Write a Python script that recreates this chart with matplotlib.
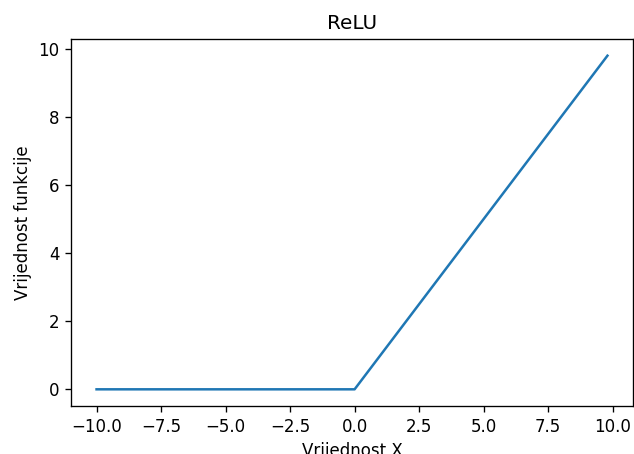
import matplotlib
matplotlib.use("Agg")
import matplotlib.pyplot as plt

x_vals = [-10.0, -0.2, 0.0, 0.2, 9.8]
y_vals = [0.0, 0.0, 0.0, 0.2, 9.8]

W, H = 634, 454
DPI = 120
fig = plt.figure(figsize=(W / DPI, H / DPI), dpi=DPI)
ax = fig.add_axes([71 / W, 1 - 406 / H, (633 - 71) / W, (406 - 39) / H])
ax.plot(x_vals, y_vals, color="#1f77b4")
ax.set_title("ReLU")
ax.set_xlabel("Vrijednost X")
ax.set_ylabel("Vrijednost funkcije")
fig.savefig("out.png", dpi=DPI)
